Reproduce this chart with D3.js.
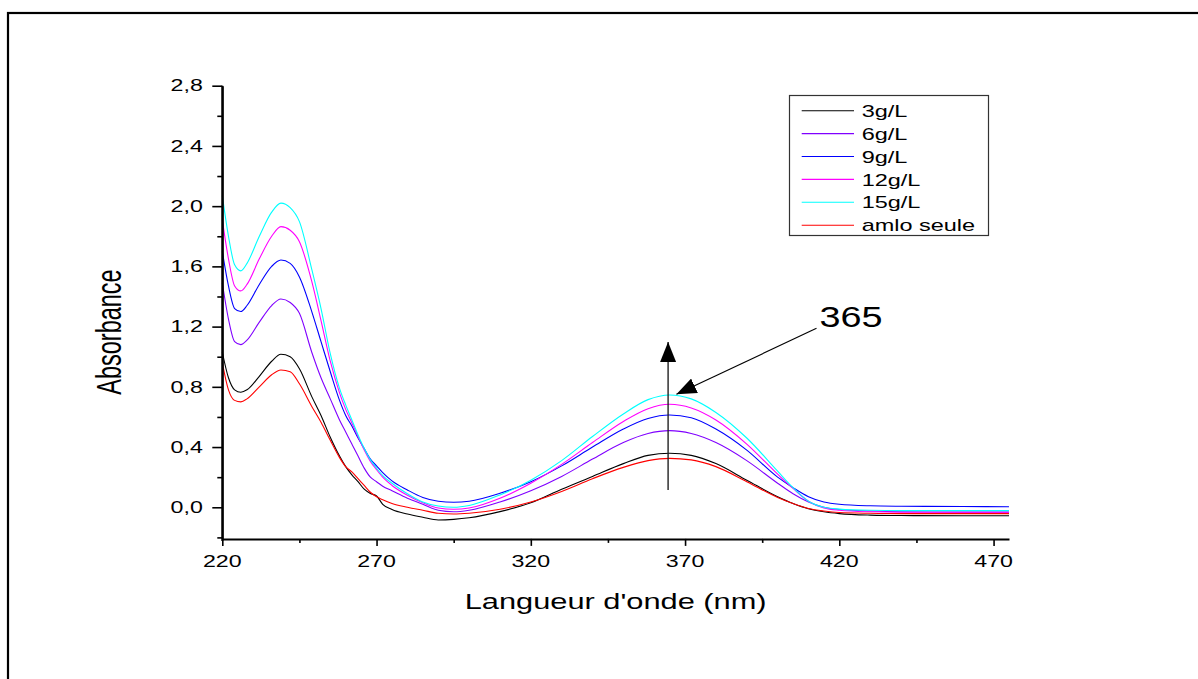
<!DOCTYPE html>
<html><head><meta charset="utf-8">
<script src="https://cdn.jsdelivr.net/npm/d3@7"></script>
<style>
html,body{margin:0;padding:0;background:#fff;}
svg{display:block;}
text{font-family:"Liberation Sans",Arial,sans-serif;fill:#000;}
</style></head>
<body><svg id="chart" width="1198" height="679"></svg>
<script>
// ---------- data ----------
const wavelengths = [220,222,224,226,228,232,236,239,242,245,249,252,255,258,260,262,264,266,268,270,272,275,280,285,290,295,300,310,320,330,340,350,358,365,372,380,390,400,405,410,415,420,430,440,460,475];
const s3g  = [1.03,0.86,0.78,0.764,0.78,0.87,0.97,1.016,1.00,0.92,0.735,0.61,0.465,0.34,0.27,0.215,0.17,0.12,0.092,0.075,0.02,-0.015,-0.045,-0.066,-0.084,-0.08,-0.07,-0.029,0.03,0.12,0.205,0.29,0.345,0.359,0.345,0.29,0.18,0.07,0.025,-0.01,-0.03,-0.042,-0.052,-0.055,-0.056,-0.056];
const s6g  = [1.49,1.25,1.10,1.08,1.11,1.23,1.34,1.383,1.36,1.288,1.03,0.86,0.72,0.58,0.50,0.42,0.34,0.26,0.20,0.17,0.14,0.11,0.06,0.02,-0.02,-0.03,-0.02,0.035,0.11,0.205,0.32,0.43,0.49,0.509,0.49,0.43,0.31,0.16,0.09,0.035,0.0,-0.015,-0.025,-0.03,-0.032,-0.032];
const s9g  = [1.70,1.47,1.32,1.30,1.34,1.48,1.60,1.642,1.62,1.53,1.30,1.10,0.90,0.71,0.61,0.54,0.46,0.39,0.32,0.275,0.23,0.175,0.115,0.065,0.04,0.033,0.04,0.093,0.17,0.275,0.40,0.52,0.59,0.613,0.595,0.52,0.38,0.20,0.13,0.07,0.035,0.02,0.01,0.007,0.005,0.004];
const s12g = [1.91,1.65,1.47,1.437,1.48,1.65,1.80,1.864,1.84,1.764,1.50,1.24,0.97,0.76,0.65,0.56,0.47,0.38,0.305,0.25,0.20,0.145,0.08,0.03,-0.005,-0.013,-0.005,0.06,0.16,0.285,0.43,0.57,0.655,0.684,0.66,0.58,0.42,0.22,0.125,0.04,-0.005,-0.02,-0.03,-0.033,-0.033,-0.033];
const s15g = [2.07,1.80,1.61,1.57,1.62,1.80,1.96,2.02,1.99,1.897,1.58,1.32,1.02,0.79,0.68,0.58,0.48,0.39,0.315,0.26,0.21,0.16,0.09,0.035,0.008,0.0,0.012,0.082,0.18,0.31,0.47,0.62,0.715,0.746,0.72,0.63,0.46,0.24,0.13,0.04,0.0,-0.012,-0.02,-0.022,-0.022,-0.022];
const amlo = [0.96,0.78,0.71,0.70,0.72,0.80,0.88,0.912,0.90,0.82,0.67,0.565,0.445,0.33,0.27,0.235,0.19,0.145,0.10,0.07,0.05,0.025,0.0,-0.02,-0.04,-0.045,-0.04,-0.013,0.035,0.105,0.19,0.265,0.31,0.325,0.315,0.27,0.17,0.065,0.025,-0.008,-0.025,-0.035,-0.04,-0.042,-0.042,-0.042];

const seriesNames = ["3g/L","6g/L","9g/L","12g/L","15g/L","amlo seule"];
const seriesData = [s3g, s6g, s9g, s12g, s15g, amlo];
const seriesColors = ["#000000","#8000ff","#0000ff","#ff00ff","#00ffff","#ff0000"];

const xTicks = [220,270,320,370,420,470];
const xMinorTicks = [245,295,345,395,445];
const yTicks = [0.0,0.4,0.8,1.2,1.6,2.0,2.4,2.8];
const yMinorTicks = [-0.2,0.2,0.6,1.0,1.4,1.8,2.2,2.6];
const xTitle = "Langueur d'onde (nm)";
const yTitle = "Absorbance";

// annotation anchors (data units)
const upArrow = {x:364.5, y0:0.115, y1:1.098};
const peakArrow = {x0:412.6, y0:1.189, x1:367.2, y1:0.75};
const peakLabel = {text:"365", x:413.6, y:1.2};

// ---------- layout ----------
const svg = d3.select("#chart");
const x = d3.scaleLinear().domain([220,475]).range([222.3,1009]);
const y = d3.scaleLinear().domain([-0.21,2.8]).range([538.9,85.7]);
const SX = 1.45; // horizontal stretch of text in reference

// frame
svg.append("rect").attr("x",8).attr("y",13).attr("width",1300).attr("height",800)
  .attr("fill","none").attr("stroke","#000").attr("stroke-width",2.2);

// curves
const line = d3.line().x((d,i)=>x(wavelengths[i])).y(d=>y(d)).curve(d3.curveMonotoneX);
seriesData.forEach((s,k)=>{
  svg.append("path").datum(s).attr("d",line)
    .attr("fill","none").attr("stroke",seriesColors[k]).attr("stroke-width",1.1);
});

// axes
svg.append("g").attr("transform",`translate(0,${y(-0.21)})`)
  .call(d3.axisBottom(x).tickValues(xTicks).tickSize(7).tickSizeOuter(0).tickFormat(""));
const gxm = svg.append("g").attr("transform",`translate(0,${y(-0.21)})`)
  .call(d3.axisBottom(x).tickValues(xMinorTicks).tickSize(4).tickSizeOuter(0).tickFormat(""));
gxm.select(".domain").remove();
svg.append("g").attr("transform",`translate(${x(220)},0)`)
  .call(d3.axisLeft(y).tickValues(yTicks).tickSize(10).tickSizeOuter(0).tickFormat(""));
const gym = svg.append("g").attr("transform",`translate(${x(220)},0)`)
  .call(d3.axisLeft(y).tickValues(yMinorTicks).tickSize(5).tickSizeOuter(0).tickFormat(""));
gym.select(".domain").remove();
svg.selectAll(".domain").attr("stroke","#000").attr("stroke-width",2);
svg.selectAll(".tick line").attr("stroke","#000").attr("stroke-width",1.6);
svg.append("line").attr("x1",x(220)).attr("x2",x(220)).attr("y1",y(2.8)).attr("y2",y(-0.21)+2)
  .attr("stroke","#000").attr("stroke-width",2);

// tick labels
const fmt = d=>d3.format(".1f")(d).replace(".",",");
svg.append("g").selectAll("text").data(xTicks).join("text")
  .attr("transform",d=>`translate(${x(d)},567.3) scale(${SX},1)`)
  .attr("text-anchor","middle").style("font-size","16px").text(d=>d);
svg.append("g").selectAll("text").data(yTicks).join("text")
  .attr("transform",d=>`translate(${x(220)-19.5},${y(d)}) scale(${SX},1)`)
  .attr("text-anchor","end").attr("dy","0.36em").style("font-size","16px").text(fmt);

// axis titles
svg.append("text").attr("transform",`translate(${(x(220)+x(475))/2},609) scale(1.4,1)`)
  .attr("text-anchor","middle").style("font-size","22px").text(xTitle);
svg.append("text").attr("transform",`translate(121,332) scale(1.5,1) rotate(-90)`)
  .attr("text-anchor","middle").style("font-size","23.5px").text(yTitle);

// legend
const lg = svg.append("g");
lg.append("rect").attr("x",789.5).attr("y",95.5).attr("width",199).attr("height",140)
  .attr("fill","#fff").attr("stroke","#333").attr("stroke-width",1.2);
seriesNames.forEach((n,i)=>{
  const yy = 110.7 + i*22.9;
  lg.append("line").attr("x1",801.7).attr("x2",854).attr("y1",yy).attr("y2",yy)
    .attr("stroke",seriesColors[i]).attr("stroke-width",1.1);
  lg.append("text").attr("transform",`translate(861.7,${yy}) scale(1.38,1)`)
    .attr("dy","0.36em").style("font-size","17px").text(n);
});

// annotations
const defs = svg.append("defs");
defs.append("marker").attr("id","ah").attr("viewBox","0 0 20 16").attr("refX",20).attr("refY",8)
  .attr("markerWidth",20).attr("markerHeight",16).attr("markerUnits","userSpaceOnUse")
  .attr("orient","auto").append("path").attr("d","M0,0 L20,8 L0,16 Z").attr("fill","#000");
svg.append("line").attr("x1",x(upArrow.x)).attr("x2",x(upArrow.x))
  .attr("y1",y(upArrow.y0)).attr("y2",y(upArrow.y1))
  .attr("stroke","#222").attr("stroke-width",1.4).attr("marker-end","url(#ah)");
svg.append("line").attr("x1",x(peakArrow.x0)).attr("y1",y(peakArrow.y0))
  .attr("x2",x(peakArrow.x1)).attr("y2",y(peakArrow.y1))
  .attr("stroke","#000").attr("stroke-width",1.1).attr("marker-end","url(#ah)");
svg.append("text").attr("transform",`translate(${x(peakLabel.x)},${y(peakLabel.y)}) scale(1.26,1)`)
  .style("font-size","30px").text(peakLabel.text);
</script></body></html>
